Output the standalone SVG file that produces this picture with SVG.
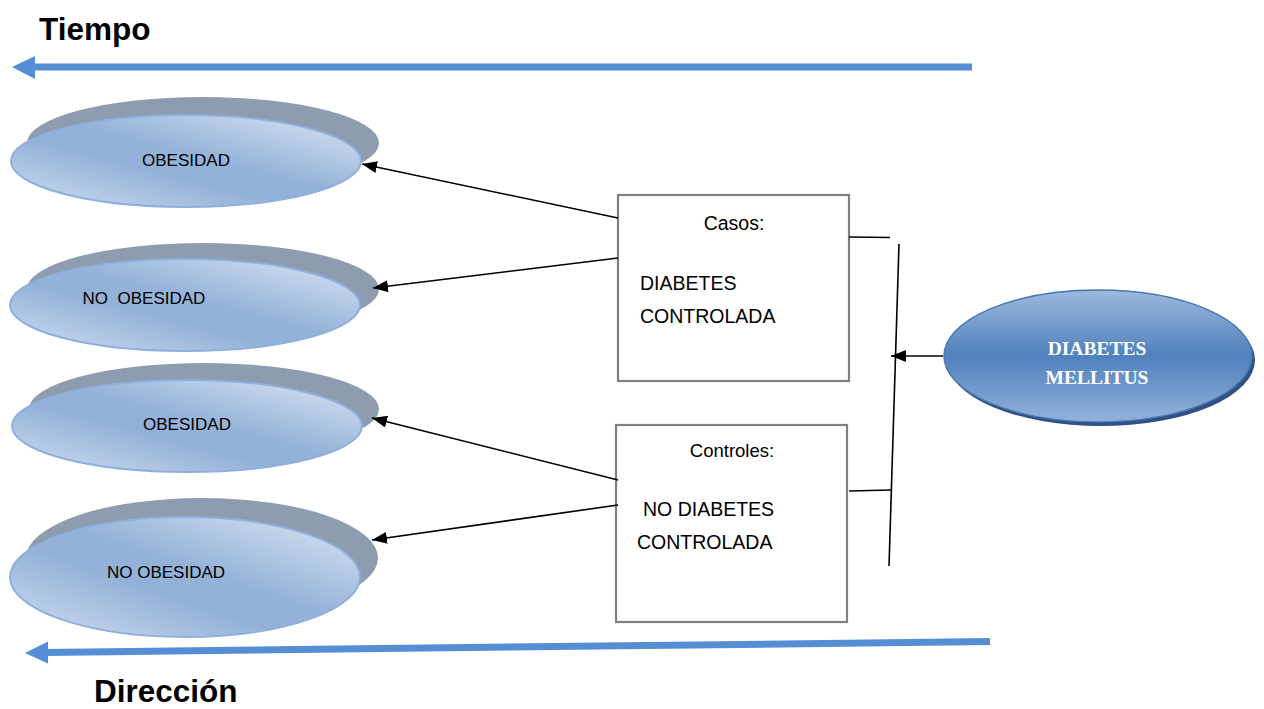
<svg xmlns="http://www.w3.org/2000/svg" width="1264" height="709" viewBox="0 0 1264 709">
<defs>
<linearGradient id="gFront" x1="1" y1="0" x2="0" y2="1">
<stop offset="0" stop-color="#dde7f4"/>
<stop offset="0.45" stop-color="#95b3d9"/>
<stop offset="0.6" stop-color="#93b1d8"/>
<stop offset="1" stop-color="#d2dff0"/>
</linearGradient>
<linearGradient id="gDM" x1="0" y1="0" x2="0" y2="1">
<stop offset="0" stop-color="#9db9de"/>
<stop offset="0.5" stop-color="#4f81bd"/>
<stop offset="1" stop-color="#93b2da"/>
</linearGradient>
<marker id="ah" markerUnits="userSpaceOnUse" markerWidth="16" markerHeight="12" refX="15" refY="6" orient="auto">
<path d="M0,0 L15,6 L0,12 z" fill="#000"/>
</marker>
</defs>
<style>
.shadow{fill:#8e9caf}
.front{fill:url(#gFront);stroke:#8fb0dc;stroke-width:2}
.lbl{font-family:"Liberation Sans",Arial,sans-serif;font-size:17px;fill:#000;text-anchor:middle}
.box{fill:#fff;stroke:#7f7f7f;stroke-width:2.2}
.bt{font-family:"Liberation Sans",Arial,sans-serif;font-size:19.5px;fill:#000}
.con{stroke:#000;stroke-width:1.6;fill:none}
.title{font-family:"Liberation Sans",Arial,sans-serif;font-size:31.5px;font-weight:bold;fill:#000}
.dmt{font-family:"Liberation Serif","Times New Roman",serif;font-size:19.5px;font-weight:bold;fill:#fff;text-anchor:middle}
</style>

<g id="tiempo">
<text class="title" x="39" y="40">Tiempo</text>
<line x1="972" y1="67" x2="32" y2="67" stroke="#558ed5" stroke-width="7"/>
<path d="M12,67 L35,56 L35,79 z" fill="#558ed5"/>
</g>

<g id="direccion">
<text class="title" x="94" y="702">Dirección</text>
<line x1="990" y1="641.5" x2="45" y2="652.5" stroke="#558ed5" stroke-width="7"/>
<path d="M25,653 L48,641.5 L48,663.5 z" fill="#558ed5"/>
</g>

<g id="obesidad1">
<ellipse class="shadow" cx="203" cy="143" rx="176" ry="46"/>
<ellipse class="front" cx="186" cy="161" rx="175" ry="46"/>
<text class="lbl" x="186" y="166">OBESIDAD</text>
</g>

<g id="noobesidad1">
<ellipse class="shadow" cx="203" cy="289" rx="176" ry="46"/>
<ellipse class="front" cx="185" cy="305" rx="175" ry="46"/>
<text class="lbl" x="144" y="304" xml:space="preserve">NO  OBESIDAD</text>
</g>

<g id="obesidad2">
<ellipse class="shadow" cx="204" cy="409" rx="175" ry="46"/>
<ellipse class="front" cx="187" cy="426" rx="175" ry="46"/>
<text class="lbl" x="187" y="430">OBESIDAD</text>
</g>

<g id="noobesidad2">
<ellipse class="shadow" cx="202" cy="558" rx="176" ry="60"/>
<ellipse class="front" cx="185" cy="577" rx="175" ry="60"/>
<text class="lbl" x="166" y="578">NO OBESIDAD</text>
</g>

<g id="casos">
<rect class="box" x="618" y="195" width="231" height="186"/>
<text class="bt" x="734" y="230" text-anchor="middle">Casos:</text>
<text class="bt" x="640" y="290">DIABETES</text>
<text class="bt" x="640" y="323">CONTROLADA</text>
</g>

<g id="controles">
<rect class="box" x="616" y="425" width="231" height="197"/>
<text class="bt" x="732" y="457" text-anchor="middle" style="font-size:18.5px">Controles:</text>
<text class="bt" x="643" y="516">NO DIABETES</text>
<text class="bt" x="637" y="549">CONTROLADA</text>
</g>

<g id="diabetes-mellitus">
<ellipse cx="1101" cy="360" rx="154" ry="66" fill="#2f5183"/>
<ellipse cx="1098" cy="356" rx="154" ry="66" fill="url(#gDM)" stroke="#4a78b2" stroke-width="1.5"/>
<text class="dmt" x="1097" y="355">DIABETES</text>
<text class="dmt" x="1097" y="384">MELLITUS</text>
</g>

<g id="connectors">
<line class="con" x1="618" y1="218" x2="362" y2="164" marker-end="url(#ah)"/>
<line class="con" x1="618" y1="258" x2="373" y2="288" marker-end="url(#ah)"/>
<line class="con" x1="618" y1="480" x2="372" y2="418" marker-end="url(#ah)"/>
<line class="con" x1="618" y1="505" x2="372" y2="540" marker-end="url(#ah)"/>
<line class="con" x1="849" y1="237" x2="890" y2="237.5"/>
<line class="con" x1="849" y1="491" x2="891" y2="490"/>
<line class="con" x1="899" y1="244" x2="889" y2="566"/>
<line class="con" x1="943" y1="356" x2="891" y2="356" marker-end="url(#ah)"/>
</g>
</svg>
